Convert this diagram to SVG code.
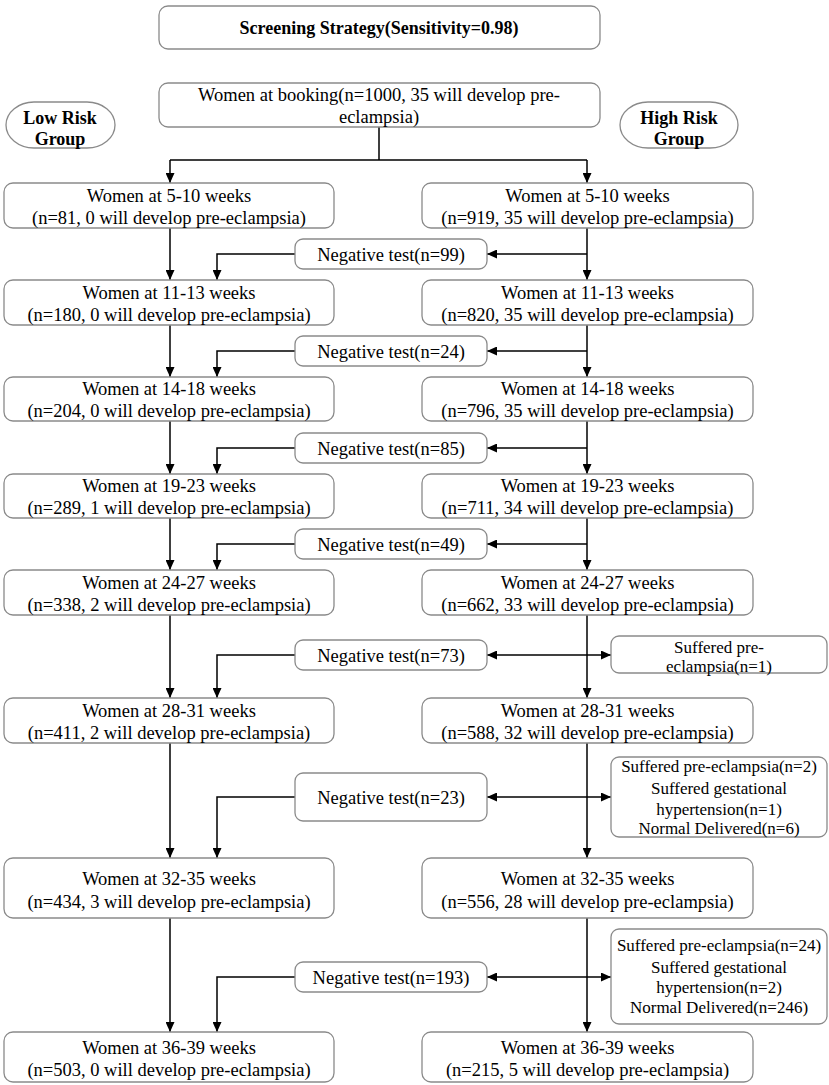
<svg xmlns="http://www.w3.org/2000/svg" width="829" height="1085" viewBox="0 0 829 1085">
<style>
.box{fill:#fff;stroke:#8a8a8a;stroke-width:1.3}
.t{font-family:"Liberation Serif","Times New Roman",serif;font-size:18.5px;fill:#000;text-anchor:middle}
.s{font-family:"Liberation Serif","Times New Roman",serif;font-size:17px;fill:#000;text-anchor:middle}
.b{font-family:"Liberation Serif","Times New Roman",serif;font-size:18px;font-weight:bold;fill:#000;text-anchor:middle}
.c{fill:none;stroke:#000;stroke-width:1.5}
.a{marker-end:url(#ah)}
.d{marker-end:url(#ah);marker-start:url(#ah)}
</style>
<defs>
<marker id="ah" markerUnits="userSpaceOnUse" markerWidth="11" markerHeight="9" refX="10" refY="4.5" orient="auto-start-reverse">
<path d="M0,0 L10,4.5 L0,9 z" fill="#000"/>
</marker>
</defs>
<rect x="0" y="0" width="829" height="1085" fill="#fff"/>

<g id="connectors">
<path class="c" d="M379,127 V160 M170,160 H587"/>
<path class="c a" d="M170,160 V183"/>
<path class="c a" d="M587,160 V183"/>
<!-- left column -->
<path class="c a" d="M170,228 V280"/>
<path class="c a" d="M170,325 V377"/>
<path class="c a" d="M170,421 V474"/>
<path class="c a" d="M170,518 V570"/>
<path class="c a" d="M170,615 V698"/>
<path class="c a" d="M170,743 V858"/>
<path class="c a" d="M170,918 V1032"/>
<!-- right column -->
<path class="c a" d="M587,228 V280"/>
<path class="c a" d="M587,325 V377"/>
<path class="c a" d="M587,421 V474"/>
<path class="c a" d="M587,518 V570"/>
<path class="c a" d="M587,615 V698"/>
<path class="c a" d="M587,743 V858"/>
<path class="c a" d="M587,918 V1032"/>
<!-- to negative boxes -->
<path class="c a" d="M587,254 H487"/>
<path class="c a" d="M587,351 H487"/>
<path class="c a" d="M587,448 H487"/>
<path class="c a" d="M587,544 H487"/>
<path class="c d" d="M487,655 H611"/>
<path class="c d" d="M487,797 H611"/>
<path class="c d" d="M487,977 H611"/>
<!-- negative to left -->
<path class="c a" d="M295,254 H217 V280"/>
<path class="c a" d="M295,351 H217 V377"/>
<path class="c a" d="M295,448 H217 V474"/>
<path class="c a" d="M295,544 H217 V570"/>
<path class="c a" d="M295,655 H217 V698"/>
<path class="c a" d="M295,797 H217 V858"/>
<path class="c a" d="M295,977 H217 V1032"/>
</g>

<g id="title"><rect class="box" x="159" y="6" width="441" height="43" rx="9"/><text class="b" x="379" y="33.5">Screening Strategy(Sensitivity=0.98)</text></g>
<g id="booking"><rect class="box" x="159" y="83" width="441" height="44" rx="9"/><text class="t" x="379" y="100.5">Women at booking(n=1000, 35 will develop pre-</text><text class="t" x="379" y="122.5">eclampsia)</text></g>
<g id="lowrisk"><rect class="box" x="6" y="102" width="109" height="46" rx="28" ry="23"/><text class="b" x="60" y="123.5">Low Risk</text><text class="b" x="60" y="144.5">Group</text></g>
<g id="highrisk"><rect class="box" x="620" y="102" width="118" height="46" rx="28" ry="23"/><text class="b" x="679" y="123.5">High Risk</text><text class="b" x="679" y="144.5">Group</text></g>

<g id="L1"><rect class="box" x="4" y="183" width="330" height="45" rx="9"/><text class="t" x="169" y="201.5">Women at 5-10 weeks</text><text class="t" x="169" y="223.5">(n=81, 0 will develop pre-eclampsia)</text></g>
<g id="R1"><rect class="box" x="422" y="183" width="331" height="45" rx="9"/><text class="t" x="587.5" y="201.5">Women at 5-10 weeks</text><text class="t" x="587.5" y="223.5">(n=919, 35 will develop pre-eclampsia)</text></g>
<g id="N1"><rect class="box" x="295" y="239" width="192" height="30" rx="8"/><text class="t" x="391" y="260.5">Negative test(n=99)</text></g>

<g id="L2"><rect class="box" x="4" y="280" width="330" height="45" rx="9"/><text class="t" x="169" y="298.5">Women at 11-13 weeks</text><text class="t" x="169" y="320.5">(n=180, 0 will develop pre-eclampsia)</text></g>
<g id="R2"><rect class="box" x="422" y="280" width="331" height="45" rx="9"/><text class="t" x="587.5" y="298.5">Women at 11-13 weeks</text><text class="t" x="587.5" y="320.5">(n=820, 35 will develop pre-eclampsia)</text></g>
<g id="N2"><rect class="box" x="295" y="336" width="192" height="30" rx="8"/><text class="t" x="391" y="357.5">Negative test(n=24)</text></g>

<g id="L3"><rect class="box" x="4" y="377" width="330" height="44" rx="9"/><text class="t" x="169" y="394.5">Women at 14-18 weeks</text><text class="t" x="169" y="416.5">(n=204, 0 will develop pre-eclampsia)</text></g>
<g id="R3"><rect class="box" x="422" y="377" width="331" height="44" rx="9"/><text class="t" x="587.5" y="394.5">Women at 14-18 weeks</text><text class="t" x="587.5" y="416.5">(n=796, 35 will develop pre-eclampsia)</text></g>
<g id="N3"><rect class="box" x="295" y="433" width="192" height="30" rx="8"/><text class="t" x="391" y="454.5">Negative test(n=85)</text></g>

<g id="L4"><rect class="box" x="4" y="474" width="330" height="44" rx="9"/><text class="t" x="169" y="491.5">Women at 19-23 weeks</text><text class="t" x="169" y="513.5">(n=289, 1 will develop pre-eclampsia)</text></g>
<g id="R4"><rect class="box" x="422" y="474" width="331" height="44" rx="9"/><text class="t" x="587.5" y="491.5">Women at 19-23 weeks</text><text class="t" x="587.5" y="513.5">(n=711, 34 will develop pre-eclampsia)</text></g>
<g id="N4"><rect class="box" x="295" y="529" width="192" height="30" rx="8"/><text class="t" x="391" y="550.5">Negative test(n=49)</text></g>

<g id="L5"><rect class="box" x="4" y="570" width="330" height="45" rx="9"/><text class="t" x="169" y="588.5">Women at 24-27 weeks</text><text class="t" x="169" y="610.5">(n=338, 2 will develop pre-eclampsia)</text></g>
<g id="R5"><rect class="box" x="422" y="570" width="331" height="45" rx="9"/><text class="t" x="587.5" y="588.5">Women at 24-27 weeks</text><text class="t" x="587.5" y="610.5">(n=662, 33 will develop pre-eclampsia)</text></g>
<g id="N5"><rect class="box" x="295" y="640" width="192" height="30" rx="8"/><text class="t" x="391" y="661.5">Negative test(n=73)</text></g>
<g id="S1"><rect class="box" x="611" y="636" width="216" height="37" rx="8"/><text class="s" x="719" y="653">Suffered pre-</text><text class="s" x="719" y="672">eclampsia(n=1)</text></g>

<g id="L6"><rect class="box" x="4" y="698" width="330" height="45" rx="9"/><text class="t" x="169" y="716.5">Women at 28-31 weeks</text><text class="t" x="169" y="738.5">(n=411, 2 will develop pre-eclampsia)</text></g>
<g id="R6"><rect class="box" x="422" y="698" width="331" height="45" rx="9"/><text class="t" x="587.5" y="716.5">Women at 28-31 weeks</text><text class="t" x="587.5" y="738.5">(n=588, 32 will develop pre-eclampsia)</text></g>
<g id="N6"><rect class="box" x="295" y="773" width="192" height="48" rx="8"/><text class="t" x="391" y="803.5">Negative test(n=23)</text></g>
<g id="S2"><rect class="box" x="611" y="757" width="216" height="80" rx="8"/><text class="s" x="719" y="772">Suffered pre-eclampsia(n=2)</text><text class="s" x="719" y="793.5">Suffered gestational</text><text class="s" x="719" y="814.5">hypertension(n=1)</text><text class="s" x="719" y="834">Normal Delivered(n=6)</text></g>

<g id="L7"><rect class="box" x="4" y="858" width="330" height="60" rx="9"/><text class="t" x="169" y="884.5">Women at 32-35 weeks</text><text class="t" x="169" y="907.5">(n=434, 3 will develop pre-eclampsia)</text></g>
<g id="R7"><rect class="box" x="422" y="858" width="331" height="60" rx="9"/><text class="t" x="587.5" y="884.5">Women at 32-35 weeks</text><text class="t" x="587.5" y="907.5">(n=556, 28 will develop pre-eclampsia)</text></g>
<g id="N7"><rect class="box" x="295" y="962" width="192" height="30" rx="8"/><text class="t" x="391" y="983.5">Negative test(n=193)</text></g>
<g id="S3"><rect class="box" x="611" y="929" width="216" height="95" rx="8"/><text class="s" x="719" y="951">Suffered pre-eclampsia(n=24)</text><text class="s" x="719" y="972.5">Suffered gestational</text><text class="s" x="719" y="993">hypertension(n=2)</text><text class="s" x="719" y="1013">Normal Delivered(n=246)</text></g>

<g id="L8"><rect class="box" x="4" y="1032" width="330" height="50" rx="9"/><text class="t" x="169" y="1053.5">Women at 36-39 weeks</text><text class="t" x="169" y="1075.5">(n=503, 0 will develop pre-eclampsia)</text></g>
<g id="R8"><rect class="box" x="422" y="1032" width="331" height="50" rx="9"/><text class="t" x="587.5" y="1053.5">Women at 36-39 weeks</text><text class="t" x="587.5" y="1075.5">(n=215, 5 will develop pre-eclampsia)</text></g>
</svg>
